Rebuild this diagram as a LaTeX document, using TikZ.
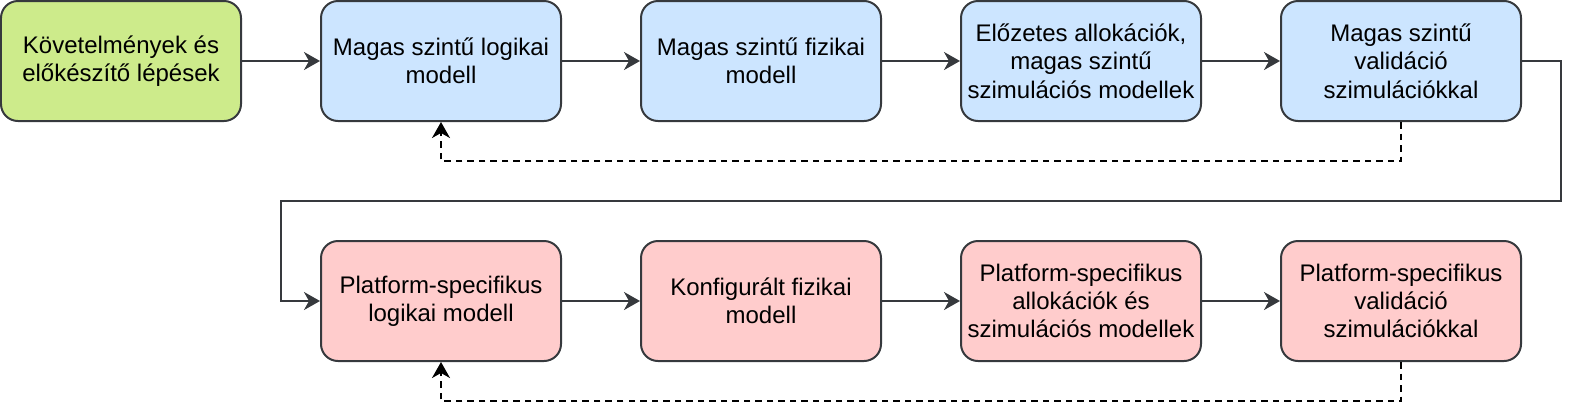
\documentclass[tikz,border=0pt]{standalone}
\usepackage{fontspec}
\setmainfont{Liberation Sans}
\usetikzlibrary{arrows.meta}
\definecolor{strk}{HTML}{36393D}
\definecolor{gfill}{HTML}{CDEB8B}
\definecolor{bfill}{HTML}{CCE5FF}
\definecolor{rfill}{HTML}{FFCCCC}
\tikzset{
  box/.style={draw=strk, line width=2bp, rounded corners=17bp, minimum width=240bp, minimum height=120bp,
    inner sep=0pt, align=center, font=\fontsize{24bp}{28.3bp}\selectfont},
  gbox/.style={box, fill=gfill},
  bbox/.style={box, fill=bfill},
  rbox/.style={box, fill=rfill},
  conn/.style={draw=strk, line width=2bp, -{Stealth[length=16bp,width=18bp,inset=5bp]}},
  back/.style={draw=black, line width=2bp, dash pattern=on 6.5bp off 5bp, -{Stealth[length=16bp,width=18bp,inset=5bp]}},
}
\begin{document}
\begin{tikzpicture}[x=1bp,y=-1bp]
\useasboundingbox (0,0) rectangle (1578,418);
\node[gbox] (a) at (121,61) {Követelmények és\\előkészítő lépések};
\node[bbox] (b) at (441,61) {Magas szintű logikai\\modell};
\node[bbox] (c) at (761,61) {Magas szintű fizikai\\modell};
\node[bbox] (d) at (1081,61) {Előzetes allokációk,\\magas szintű\\szimulációs modellek};
\node[bbox] (e) at (1401,61) {Magas szintű\\validáció\\szimulációkkal};
\node[rbox] (f) at (441,301) {Platform-specifikus\\logikai modell};
\node[rbox] (g) at (761,301) {Konfigurált fizikai\\modell};
\node[rbox] (h) at (1081,301) {Platform-specifikus\\allokációk és\\szimulációs modellek};
\node[rbox] (i) at (1401,301) {Platform-specifikus\\validáció\\szimulációkkal};
\draw[conn] (a) -- (b);
\draw[conn] (b) -- (c);
\draw[conn] (c) -- (d);
\draw[conn] (d) -- (e);
\draw[conn] (f) -- (g);
\draw[conn] (g) -- (h);
\draw[conn] (h) -- (i);
\draw[conn] (e.east) -- (1561,61) -- (1561,201) -- (281,201) -- (281,301) -- (f.west);
\draw[back] (e.south) -- (1401,161) -- (441,161) -- (b.south);
\draw[back] (i.south) -- (1401,401) -- (441,401) -- (f.south);
\end{tikzpicture}
\end{document}
